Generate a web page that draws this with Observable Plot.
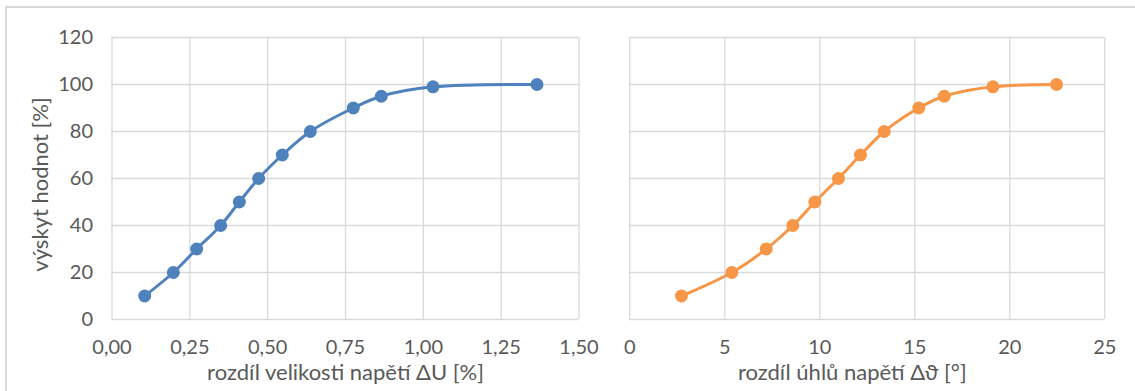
<!DOCTYPE html>
<html>
<head>
<meta charset="utf-8">
<script src="https://cdn.jsdelivr.net/npm/d3@7"></script>
<script src="https://cdn.jsdelivr.net/npm/@observablehq/plot@0.6"></script>
<style>
  html, body { margin: 0; padding: 0; background: #fff; }
  #wrap { position: relative; width: 1135px; height: 391px; overflow: hidden; background: #fff; }
  #border { position: absolute; left: 5px; top: 6px; width: 1300px; height: 600px; border: 2px solid #d9d9d9; box-sizing: border-box; }
  #left, #right { position: absolute; top: 0; }
  #left { left: 0; }
  #right { left: 600px; }
</style>
</head>
<body>
<div id="wrap">
  <div id="border"></div>
  <div id="left"></div>
  <div id="right"></div>
</div>
<script>
// ---- data ----
const deltaU = [0.105, 0.197, 0.272, 0.349, 0.409, 0.471, 0.547, 0.637, 0.775, 0.865, 1.031, 1.365];
const occurrenceU = [10, 20, 30, 40, 50, 60, 70, 80, 90, 95, 99, 100];
const deltaTheta = [2.72, 5.37, 7.18, 8.58, 9.74, 10.98, 12.14, 13.39, 15.21, 16.55, 19.11, 22.46];
const occurrenceTheta = [10, 20, 30, 40, 50, 60, 70, 80, 90, 95, 99, 100];
const xTicksU = [0, 0.25, 0.5, 0.75, 1.0, 1.25, 1.5];
const xTicksTheta = [0, 5, 10, 15, 20, 25];
const yTicks = [0, 20, 40, 60, 80, 100, 120];
const yTitle = "výskyt hodnot [%]";
const xTitleU = "rozdíl velikosti napětí ΔU [%]";
const xTitleTheta = "rozdíl úhlů napětí Δϑ [°]";

const blue = "#4f81bd";
const orange = "#f79646";
const grid = "#d9d9d9";
const textColor = "#595959";

const dataU = deltaU.map((x, i) => ({x, y: occurrenceU[i]}));
const dataT = deltaTheta.map((x, i) => ({x, y: occurrenceTheta[i]}));

const style = {fontFamily: "Lato, 'Open Sans', sans-serif", fontSize: "20px", color: textColor, background: "transparent", overflow: "visible"};
const fmt2 = d => d.toFixed(2).replace(".", ",");
const titleSize = 22;

const left = Plot.plot({
  width: 600, height: 391,
  marginLeft: 111.5, marginRight: 21.5, marginTop: 37, marginBottom: 72,
  style,
  x: {domain: [0, 1.5]},
  y: {domain: [0, 120]},
  marks: [
    Plot.gridX(xTicksU, {stroke: grid, strokeOpacity: 1, strokeWidth: 1.3}),
    Plot.gridY(yTicks, {stroke: grid, strokeOpacity: 1, strokeWidth: 1.3}),
    Plot.axisX(xTicksU, {tickSize: 0, tickPadding: 20, tickFormat: fmt2, label: null, fill: textColor}),
    Plot.axisY(yTicks, {tickSize: 0, tickPadding: 19, label: null, fill: textColor}),
    Plot.text([xTitleU], {text: d => d, frameAnchor: "bottom", dy: 53, lineAnchor: "middle", textAnchor: "middle", fill: textColor, fontSize: titleSize}),
    Plot.text([yTitle], {text: d => d, frameAnchor: "left", rotate: -90, dx: -71.5, dy: 6, lineAnchor: "middle", textAnchor: "middle", fill: textColor, fontSize: titleSize}),
    Plot.line(dataU, {x: "x", y: "y", curve: "catmull-rom", stroke: blue, strokeWidth: 3}),
    Plot.dot(dataU, {x: "x", y: "y", r: 6.5, fill: blue})
  ]
});
document.getElementById("left").appendChild(left);

const right = Plot.plot({
  width: 535, height: 391,
  marginLeft: 29.3, marginRight: 30.7, marginTop: 37, marginBottom: 72,
  style,
  x: {domain: [0, 25]},
  y: {domain: [0, 120], axis: null},
  marks: [
    Plot.gridX(xTicksTheta, {stroke: grid, strokeOpacity: 1, strokeWidth: 1.3}),
    Plot.gridY(yTicks, {stroke: grid, strokeOpacity: 1, strokeWidth: 1.3}),
    Plot.axisX(xTicksTheta, {tickSize: 0, tickPadding: 20, tickFormat: d => String(d), label: null, fill: textColor}),
    Plot.text([xTitleTheta], {text: d => d, frameAnchor: "bottom", dy: 53, dx: -15, lineAnchor: "middle", textAnchor: "middle", fill: textColor, fontSize: titleSize}),
    Plot.line(dataT, {x: "x", y: "y", curve: "catmull-rom", stroke: orange, strokeWidth: 3}),
    Plot.dot(dataT, {x: "x", y: "y", r: 6.5, fill: orange})
  ]
});
document.getElementById("right").appendChild(right);
</script>
</body>
</html>
